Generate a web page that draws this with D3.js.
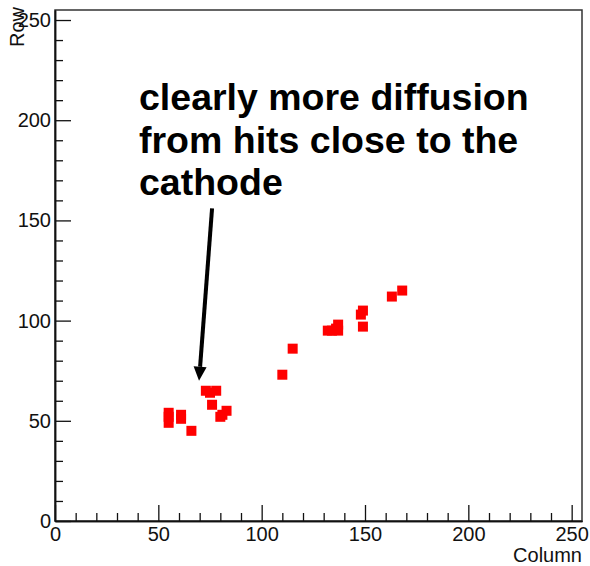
<!DOCTYPE html>
<html>
<head>
<meta charset="utf-8">
<script src="https://cdn.jsdelivr.net/npm/d3@7"></script>
<style>
    body { margin: 0; background: #fff; }
    text { font-family: "Liberation Sans", Arial, sans-serif; }
</style>
</head>
<body>
<div id="graph"></div>
<script>
// hit positions (pixel column / row)
var columns = [55, 55, 55, 61, 61, 66, 73, 75, 78, 76, 80, 81, 83, 110, 115, 132, 134, 136, 137, 137, 148, 149, 149, 163, 168];
var rows    = [54, 52, 49, 53, 51, 45, 65, 64, 65, 58, 52, 53, 55, 73, 86, 95, 95, 96, 98, 95, 103, 105, 97, 112, 115];

var majorTicks = [0, 50, 100, 150, 200, 250];
var minorTicks = [10, 20, 30, 40, 60, 70, 80, 90, 110, 120, 130, 140, 160, 170, 180, 190, 210, 220, 230, 240];

var noteLines = ["clearly more diffusion", "from hits close to the", "cathode"];
// arrow from text to the hits, in data units [column, row]
var arrowFrom = [76, 156];
var arrowTo = [69.7, 70];

var width = 590,
    height = 566;

var svg = d3.select("#graph")
    .append("svg")
    .attr("width", width)
    .attr("height", height);

var x = d3.scaleLinear().domain([0, 255]).range([55, 582]);
var y = d3.scaleLinear().domain([0, 255]).range([521, 10]);

// frame
svg.append("rect")
    .attr("x", x(0))
    .attr("y", y(255))
    .attr("width", x(255) - x(0))
    .attr("height", y(0) - y(255))
    .attr("fill", "none")
    .attr("stroke", "#333")
    .attr("stroke-width", 1.5);

// axes
svg.append("g")
    .attr("transform", "translate(0," + y(0) + ")")
    .call(d3.axisBottom(x).tickValues(majorTicks).tickSize(-16).tickSizeOuter(0).tickPadding(6));
svg.append("g")
    .attr("transform", "translate(0," + y(0) + ")")
    .call(d3.axisBottom(x).tickValues(minorTicks).tickSize(-8).tickSizeOuter(0).tickFormat(""));

svg.append("g")
    .attr("transform", "translate(" + x(0) + ",0)")
    .call(d3.axisLeft(y).tickValues(majorTicks).tickSize(-16).tickSizeOuter(0).tickPadding(4));
svg.append("g")
    .attr("transform", "translate(" + x(0) + ",0)")
    .call(d3.axisLeft(y).tickValues(minorTicks).tickSize(-8).tickSizeOuter(0).tickFormat(""));

svg.selectAll(".domain").attr("stroke", "#111").attr("stroke-width", 1.5);
svg.selectAll(".tick line").attr("stroke", "#111").attr("stroke-width", 1.3);
svg.selectAll(".tick text")
    .style("font-size", "20px")
    .attr("fill", "#111");

// axis titles
svg.append("text")
    .attr("x", 582)
    .attr("y", 562)
    .attr("text-anchor", "end")
    .style("font-size", "20px")
    .attr("fill", "#111")
    .text("Column");

svg.append("text")
    .attr("transform", "translate(24,7) rotate(-90)")
    .attr("text-anchor", "end")
    .style("font-size", "20px")
    .attr("fill", "#111")
    .text("Row");

// hits
var hits = d3.zip(columns, rows);
svg.append("g")
    .selectAll("rect")
    .data(hits)
    .enter()
    .append("rect")
    .attr("x", function (d) { return x(d[0]) - 5; })
    .attr("y", function (d) { return y(d[1]) - 5; })
    .attr("width", 10)
    .attr("height", 10)
    .attr("fill", "#ff0000");

// annotation
var note = svg.append("text")
    .attr("x", 139)
    .attr("y", 110)
    .style("font-size", "37.5px")
    .style("font-weight", "bold")
    .attr("fill", "#000");
note.selectAll("tspan")
    .data(noteLines)
    .enter()
    .append("tspan")
    .attr("x", 139)
    .attr("dy", function (d, i) { return i === 0 ? 0 : 42.5; })
    .text(function (d) { return d; });

var x0 = x(arrowFrom[0]), y0 = y(arrowFrom[1]),
    x1 = x(arrowTo[0]), y1 = y(arrowTo[1]);
var ang = Math.atan2(y1 - y0, x1 - x0);
var headLen = 14, headHalf = 6.5;
var bx = x1 - headLen * Math.cos(ang), by = y1 - headLen * Math.sin(ang);

svg.append("line")
    .attr("x1", x0).attr("y1", y0)
    .attr("x2", bx).attr("y2", by)
    .attr("stroke", "#000")
    .attr("stroke-width", 4);

svg.append("polygon")
    .attr("points", [
        [x1, y1],
        [bx + headHalf * Math.sin(ang), by - headHalf * Math.cos(ang)],
        [bx - headHalf * Math.sin(ang), by + headHalf * Math.cos(ang)]
    ].map(function (p) { return p.join(","); }).join(" "))
    .attr("fill", "#000");
</script>
</body>
</html>
